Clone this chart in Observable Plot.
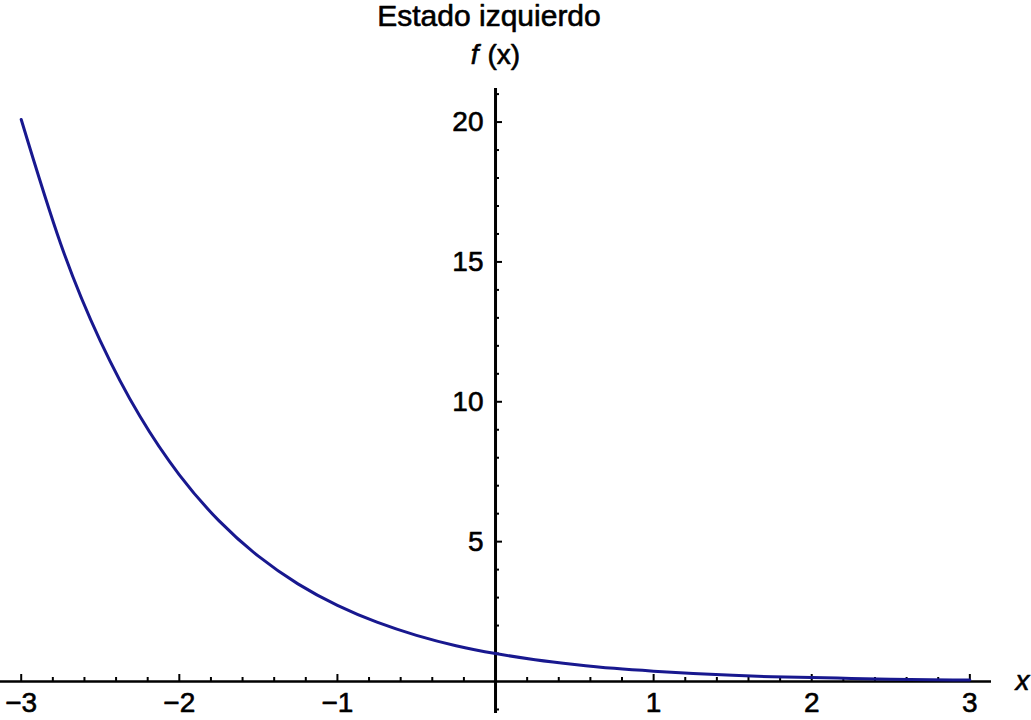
<!DOCTYPE html>
<html><head><meta charset="utf-8">
<script src="https://cdn.jsdelivr.net/npm/d3@7"></script>
<script src="https://cdn.jsdelivr.net/npm/@observablehq/plot@0.6"></script>
<style>html,body{margin:0;padding:0;background:#fff} svg{display:block}</style>
</head><body><div id="chart"></div>
<script>
const title = "Estado izquierdo";
const yLabelItalic = "f";
const yLabelRest = "(x)";
const xLabel = "x";

// curve samples
const xs = [-3, -2.75, -2.5, -2.25, -2, -1.75, -1.5, -1.25, -1, -0.75, -0.5, -0.25, 0, 0.25, 0.5, 0.75, 1, 1.25, 1.5, 1.75, 2, 2.25, 2.5, 2.75, 3];
const fx = [20.09, 15.64, 12.18, 9.49, 7.39, 5.75, 4.48, 3.49, 2.72, 2.12, 1.65, 1.28, 1.0, 0.78, 0.61, 0.47, 0.37, 0.29, 0.22, 0.17, 0.14, 0.11, 0.08, 0.06, 0.05];

const xMajorTicks = [-3, -2, -1, 1, 2, 3];
const xTickLabels = ["\u22123", "\u22122", "\u22121", "1", "2", "3"];
const xMinorTicks = [-2.8, -2.6, -2.4, -2.2, -1.8, -1.6, -1.4, -1.2, -0.8, -0.6, -0.4, -0.2, 0.2, 0.4, 0.6, 0.8, 1.2, 1.4, 1.6, 1.8, 2.2, 2.4, 2.6, 2.8];
const yMajorTicks = [5, 10, 15, 20];
const yTickLabels = ["5", "10", "15", "20"];
const yMinorTicks = [-1, 1, 2, 3, 4, 6, 7, 8, 9, 11, 12, 13, 14, 16, 17, 18, 19, 21];

const lineData = xs.map((x, i) => ({x, y: fx[i]}));
const font = "'Liberation Sans', Arial, sans-serif";
const heavy = {fill: "black", stroke: "black", strokeWidth: 0.6};

const chart = Plot.plot({
  width: 1031,
  height: 720,
  marginLeft: 0,
  marginRight: 40,
  marginTop: 88,
  marginBottom: 7,
  x: {domain: [-3.131, 3.137], axis: null},
  y: {domain: [-1.144, 21.2], axis: null},
  style: {fontFamily: font, background: "white", overflow: "visible", color: "black"},
  marks: [
    Plot.ruleY([0], {y: d => d, stroke: "black", strokeWidth: 2.5}),
    Plot.ruleX([0], {x: d => d, stroke: "black", strokeWidth: 3}),
    Plot.ruleX(xMajorTicks, {x: d => d, y1: 0, y2: 0, insetTop: -7, insetBottom: 0, stroke: "black", strokeWidth: 2}),
    Plot.ruleX(xMinorTicks, {x: d => d, y1: 0, y2: 0, insetTop: -4, insetBottom: 0, stroke: "black", strokeWidth: 2}),
    Plot.ruleY(yMajorTicks, {y: d => d, x1: 0, x2: 0, insetLeft: 0, insetRight: -7, stroke: "black", strokeWidth: 2}),
    Plot.ruleY(yMinorTicks, {y: d => d, x1: 0, x2: 0, insetLeft: 0, insetRight: -4, stroke: "black", strokeWidth: 2}),
    Plot.line(lineData, {x: "x", y: "y", curve: "natural", stroke: "#18188f", strokeWidth: 3}),
    Plot.text(xMajorTicks, {x: d => d, y: 0, text: (d, i) => xTickLabels[i], dy: 22, textAnchor: "middle", lineAnchor: "middle", fontSize: 28, ...heavy}),
    Plot.text(yMajorTicks, {x: 0, y: d => d, text: (d, i) => yTickLabels[i], dx: -12, textAnchor: "end", lineAnchor: "middle", fontSize: 28, ...heavy}),
    Plot.text([title], {frameAnchor: "top", text: d => d, dx: -7, dy: -72, lineAnchor: "middle", textAnchor: "middle", fontSize: 30, ...heavy}),
    Plot.text([yLabelItalic], {x: 0, frameAnchor: "top", text: d => d, dx: -17, dy: -33, lineAnchor: "middle", textAnchor: "end", fontSize: 28, fontStyle: "italic", ...heavy}),
    Plot.text([yLabelRest], {x: 0, frameAnchor: "top", text: d => d, dx: -8, dy: -33, lineAnchor: "middle", textAnchor: "start", fontSize: 28, ...heavy}),
    Plot.text([xLabel], {y: 0, frameAnchor: "right", text: d => d, dx: 31, lineAnchor: "middle", textAnchor: "middle", fontSize: 28, fontStyle: "italic", ...heavy})
  ]
});
document.getElementById("chart").appendChild(chart);
</script>
</body></html>
